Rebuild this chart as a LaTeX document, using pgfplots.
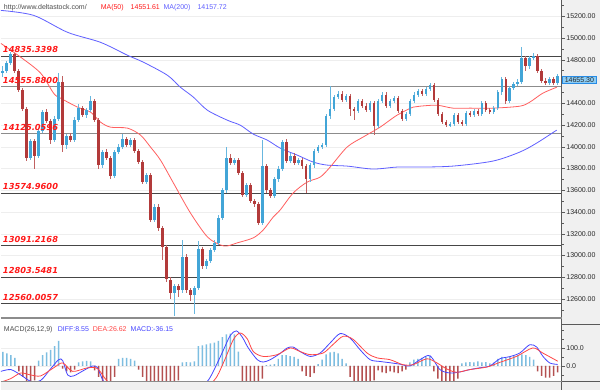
\documentclass[border=0pt]{standalone}
\usepackage{pgfplots}
\pgfplotsset{compat=1.18}
\usepackage{pgfplotstable}
\usepackage{fontspec}
\setmainfont{Liberation Sans}
\newfontfamily\dejavu{DejaVu Sans}
\definecolor{upc}{RGB}{66,165,215}
\definecolor{dnc}{RGB}{178,58,58}
\definecolor{maA}{RGB}{255,95,95}
\definecolor{maB}{RGB}{95,95,255}
\definecolor{srdark}{RGB}{70,70,70}
\definecolor{srgray}{RGB}{140,140,140}
\definecolor{lblred}{RGB}{255,25,25}
\definecolor{hpos}{RGB}{125,190,225}
\definecolor{hneg}{RGB}{180,80,80}
\definecolor{panelgray}{RGB}{240,240,240}
\definecolor{gridc}{RGB}{238,238,238}
\definecolor{tickc}{RGB}{90,90,90}
\definecolor{labc}{RGB}{40,40,40}
\definecolor{diffc}{RGB}{70,70,255}
\definecolor{deac}{RGB}{255,70,70}
\definecolor{boxfill}{RGB}{140,205,245}
\definecolor{boxdraw}{RGB}{40,140,230}

\pgfplotstableread{
x o h l c
2 14680 14740 14640 14700
6 14700 14790 14680 14770
10 14770 14870 14750 14850
14 14850 14860 14680 14700
18 14700 14720 14500 14520
22 14520 14540 14330 14350
26 14350 14370 13870 13900
30 13900 14070 13880 14050
34 14050 14070 13800 13920
38 13920 14170 13900 14150
42 14150 14340 14130 14320
46 14320 14350 14220 14240
50 14240 14260 14030 14060
54 14060 14280 14040 14260
58 14260 14680 14240 14600
62 14600 14650 13950 14020
66 14020 14120 13980 14100
70 14100 14130 14040 14060
74 14060 14270 14040 14250
78 14250 14390 14230 14360
82 14360 14380 14270 14290
86 14290 14360 14270 14340
90 14340 14470 14320 14420
94 14420 14440 14230 14250
98 14250 14270 13800 13830
102 13830 13970 13810 13950
106 13950 13980 13880 13900
110 13900 13920 13700 13730
114 13730 13970 13710 13950
118 13950 14030 13930 14000
122 14000 14120 13980 14070
126 14070 14090 14000 14020
130 14020 14080 14000 14060
134 14060 14080 13940 13960
138 13960 13980 13840 13860
142 13860 13880 13660 13680
146 13680 13760 13660 13740
150 13740 13760 13310 13330
154 13330 13470 13310 13450
158 13450 13470 13230 13250
162 13250 13270 12960 13080
166 13080 13100 12760 12780
170 12780 12800 12600 12660
174 12660 12740 12440 12720
178 12720 12740 12620 12680
182 12680 13140 12660 12990
186 12990 13010 12660 12680
190 12680 12700 12580 12640
194 12640 12720 12460 12700
198 12700 13130 12680 13060
202 13060 13080 12880 12900
206 12900 12970 12880 12950
210 12950 13070 12930 13050
214 13050 13140 13030 13120
218 13120 13370 13100 13350
222 13350 13620 13330 13600
226 13600 14000 13580 13900
230 13900 13930 13830 13850
234 13850 13900 13830 13880
238 13880 13900 13740 13760
242 13760 13780 13540 13560
246 13560 13670 13540 13650
250 13650 13670 13480 13500
254 13500 13520 13450 13470
258 13470 13490 13280 13300
262 13300 14060 13280 13820
266 13820 13840 13580 13600
270 13600 13620 13530 13550
274 13550 13720 13530 13700
278 13700 13820 13680 13800
282 13800 14060 13780 14040
286 14040 14070 13850 13870
290 13870 13940 13850 13920
294 13920 13940 13830 13850
298 13850 13900 13830 13880
302 13880 13900 13800 13820
306 13820 13840 13580 13700
310 13700 13850 13680 13830
314 13830 13980 13810 13960
318 13960 14020 13940 14000
322 14000 14040 13980 14020
326 14020 14300 14000 14280
330 14280 14560 14260 14350
334 14350 14480 14330 14460
338 14460 14510 14440 14490
342 14490 14510 14410 14430
346 14430 14490 14410 14470
350 14470 14490 14280 14350
354 14350 14370 14250 14330
358 14330 14440 14310 14420
362 14420 14440 14360 14380
366 14380 14400 14320 14340
370 14340 14420 14320 14400
374 14400 14420 14110 14190
378 14190 14440 14170 14420
382 14420 14500 14400 14480
386 14480 14500 14360 14380
390 14380 14440 14360 14420
394 14420 14470 14400 14450
398 14450 14470 14310 14330
402 14330 14350 14240 14260
406 14260 14320 14240 14300
410 14300 14440 14280 14420
414 14420 14500 14400 14480
418 14480 14530 14460 14510
422 14510 14530 14470 14490
426 14490 14550 14470 14530
430 14530 14590 14510 14570
434 14570 14590 14410 14430
438 14430 14450 14280 14300
442 14300 14320 14210 14230
446 14230 14250 14180 14200
450 14200 14230 14180 14210
454 14210 14310 14190 14290
458 14290 14310 14210 14230
462 14230 14250 14190 14210
466 14210 14330 14190 14310
470 14310 14330 14270 14290
474 14290 14350 14270 14330
478 14330 14350 14280 14300
482 14300 14420 14280 14400
486 14400 14420 14320 14340
490 14340 14360 14300 14320
494 14320 14380 14300 14360
498 14360 14520 14340 14500
502 14500 14640 14480 14620
506 14620 14640 14390 14420
510 14420 14560 14400 14540
514 14540 14600 14520 14580
518 14580 14620 14560 14600
522 14600 14920 14580 14820
526 14820 14840 14700 14740
530 14740 14840 14720 14820
534 14820 14860 14800 14840
538 14840 14850 14680 14700
542 14700 14720 14590 14610
546 14610 14630 14570 14590
550 14590 14640 14570 14620
554 14620 14640 14570 14590
558 14590 14670 14570 14655.3
}\candles

\pgfplotstableread{
x v
2 78
6 70
10 60
14 45
18 -30
22 -60
26 -90
30 -90
34 -80
38 30
42 60
46 75
50 90
54 110
58 140
62 -15
66 -30
70 -35
74 -20
78 20
82 25
86 28
90 25
94 -25
98 -60
102 -90
106 -90
110 -90
114 -60
118 40
122 45
126 45
130 40
134 30
138 -20
142 -60
146 -90
150 -90
154 -90
158 -90
162 -90
166 -90
170 -90
174 -90
178 -80
182 20
186 22
190 20
194 25
198 110
202 115
206 120
210 125
214 130
218 140
222 160
226 175
230 180
234 175
238 80
242 -90
246 -90
250 -90
254 -90
258 -90
262 -70
266 5
270 8
274 10
278 40
282 60
286 60
290 55
294 50
298 40
302 -30
306 -55
310 -60
314 -40
318 10
322 35
326 65
330 75
334 78
338 70
342 40
346 15
350 -60
354 -85
358 -90
362 -90
366 -90
370 -85
374 -80
378 -25
382 -35
386 -40
390 -30
394 -35
398 -40
402 -30
406 -20
410 20
414 35
418 40
422 45
426 50
430 55
434 -30
438 -70
442 -90
446 -90
450 -90
454 -85
458 -70
462 15
466 20
470 22
474 20
478 25
482 20
486 22
490 15
494 18
498 40
502 50
506 45
510 50
514 55
518 60
522 65
526 60
530 50
534 35
538 -30
542 -55
546 -65
550 -65
554 -55
558 -36.15
}\hist

\pgfplotsset{
  candle/.style n args={2}{draw=none, no marks, forget plot,
    restrict y to domain=10000:20000,
    error bars/.cd, y dir=both, y explicit, error mark=none,
    error bar style={draw=#1, line width=#2, line cap=butt}},
}

\begin{document}
\begin{tikzpicture}
\fill[white] (0pt,0pt) rectangle (600pt,390pt);
\fill[panelgray] (562pt,0pt) rectangle (600pt,390pt);
\fill[panelgray] (0pt,0pt) rectangle (600pt,8pt);

\begin{axis}[
  at={(0pt,72pt)}, anchor=south west, scale only axis,
  width=562pt, height=318pt,
  xmin=0, xmax=562, ymin=12428, ymax=15347,
  xtick=\empty,
  axis line style={draw=none},
  ytick={12600,12800,13000,13200,13400,13600,13800,14000,14200,14400,14800,15000,15200},
  minor ytick={12500,12700,...,15300,14600},
  scaled y ticks=false,
  ytick pos=right, yticklabel pos=right,
  ymajorgrids, major grid style={draw=gridc, line width=0.6pt},
  tick align=outside, major tick length=3.5pt, minor tick length=2pt,
  tick style={draw=tickc, line width=0.5pt},
  minor tick style={draw=tickc, line width=0.5pt},
  yticklabel style={font=\fontsize{7}{8}\selectfont, text=labc, anchor=west, inner sep=1pt,
    /pgf/number format/fixed, /pgf/number format/fixed zerofill,
    /pgf/number format/precision=2, /pgf/number format/1000 sep={},
    /pgf/number format/assume math mode=true},
  clip mode=individual,
]
% support / resistance lines
\addplot[srdark, line width=0.8pt] coordinates {(0,14835.3398) (562,14835.3398)};
\addplot[srgray, line width=1.4pt] coordinates {(0,14555.88) (562,14555.88)};
\addplot[srgray, line width=1.4pt] coordinates {(0,14125.0596) (562,14125.0596)};
\addplot[srdark, line width=0.8pt] coordinates {(0,13574.96) (562,13574.96)};
\addplot[srdark, line width=0.8pt] coordinates {(0,13091.2168) (562,13091.2168)};
\addplot[srdark, line width=0.8pt] coordinates {(0,12803.5481) (562,12803.5481)};
\addplot[srdark, line width=0.8pt] coordinates {(0,12560.0057) (562,12560.0057)};

% MA lines
\addplot[maB, line width=0.8pt, smooth] coordinates {
(0,15255) (33,15209) (67,15053) (100,14961) (127,14842) (143,14778) (167,14658)
(180,14548) (193,14457) (207,14337) (227,14245) (240,14199) (253,14117) (267,14062)
(280,13988) (297,13924) (313,13860) (327,13832) (347,13823) (373,13796) (397,13814)
(420,13814) (453,13823) (493,13869) (520,13952) (537,14035) (557,14154)};
\addplot[maA, line width=0.8pt, smooth] coordinates {
(0,14952) (20,14824) (40,14677) (53,14492) (60,14447) (77,14365) (90,14319)
(100,14227) (110,14181) (127,14172) (140,14108) (150,13998) (160,13878) (173,13667)
(190,13392) (207,13172) (220,13098) (227,13089) (237,13117) (253,13163) (263,13236)
(273,13355) (280,13420) (293,13576) (307,13676) (320,13722) (330,13814) (347,13998)
(363,14090) (380,14181) (397,14291) (413,14365) (420,14374) (437,14383) (453,14356)
(470,14356) (493,14356) (520,14374) (530,14411) (543,14493) (557,14548)};

% candles: wicks
\addplot[candle={upc!80}{0.7pt}]
  table[x=x, y expr={ifthenelse(\thisrow{c}>=\thisrow{o},(\thisrow{h}+\thisrow{l})/2,50000)},
        y error expr={(\thisrow{h}-\thisrow{l})/2}] {\candles};
\addplot[candle={dnc!80}{0.7pt}]
  table[x=x, y expr={ifthenelse(\thisrow{c}<\thisrow{o},(\thisrow{h}+\thisrow{l})/2,50000)},
        y error expr={(\thisrow{h}-\thisrow{l})/2}] {\candles};
% candles: bodies
\addplot[candle={upc}{2.6pt}]
  table[x=x, y expr={ifthenelse(\thisrow{c}>=\thisrow{o},(\thisrow{o}+\thisrow{c})/2,50000)},
        y error expr={max(abs(\thisrow{c}-\thisrow{o})/2,5)}] {\candles};
\addplot[candle={dnc}{2.6pt}]
  table[x=x, y expr={ifthenelse(\thisrow{c}<\thisrow{o},(\thisrow{o}+\thisrow{c})/2,50000)},
        y error expr={max(abs(\thisrow{c}-\thisrow{o})/2,5)}] {\candles};

% level labels
\begin{scope}[every node/.style={anchor=base west, inner sep=0pt, text=lblred,
   font=\dejavu\bfseries\itshape\fontsize{8.3}{9}\selectfont}]
\node at (axis cs:2,14864) {14835.3398};
\node at (axis cs:2,14584) {14555.8800};
\node at (axis cs:2,14154) {14125.0596};
\node at (axis cs:2,13604) {13574.9600};
\node at (axis cs:2,13120) {13091.2168};
\node at (axis cs:2,12832) {12803.5481};
\node at (axis cs:2,12589) {12560.0057};
\end{scope}
\end{axis}

\begin{axis}[
  at={(0pt,8pt)}, anchor=south west, scale only axis,
  width=562pt, height=57pt,
  xmin=0, xmax=562, ymin=-87, ymax=229,
  xtick=\empty,
  axis line style={draw=none},
  ytick={0,100}, minor ytick={-50,50,150,200},
  ytick pos=right, yticklabel pos=right,
  ymajorgrids, major grid style={draw=gridc, line width=0.6pt},
  tick align=outside, major tick length=3.5pt, minor tick length=2pt,
  tick style={draw=tickc, line width=0.5pt},
  minor tick style={draw=tickc, line width=0.5pt},
  yticklabel style={font=\fontsize{7}{8}\selectfont, text=labc, anchor=west, inner sep=1pt,
    /pgf/number format/fixed, /pgf/number format/fixed zerofill,
    /pgf/number format/precision=1, /pgf/number format/assume math mode=true},
  clip mode=individual,
]
\addplot[ybar, bar width=1.5pt, bar shift=0pt, fill=hpos, draw=none]
  table[x=x, y expr={max(\thisrow{v},0)}] {\hist};
\addplot[ybar, bar width=1.5pt, bar shift=0pt, fill=hneg, draw=none]
  table[x=x, y expr={min(\thisrow{v},0)}] {\hist};
\addplot[diffc, line width=0.8pt, smooth] coordinates {
(0,-30) (10,-20) (20,-50) (30,-85) (40,-80) (50,-15) (58,35) (62,30) (67,-50) (73,-55)
(83,-25) (92,0) (97,-10) (103,-85) (113,-110) (130,-130) (160,-180) (190,-150) (207,-85)
(217,17) (223,88) (230,170) (236,195) (242,160) (248,100) (257,35) (263,22) (270,35)
(280,70) (287,100) (293,105) (300,80) (310,53) (320,72) (330,128) (340,180) (350,155)
(360,90) (370,35) (380,25) (390,18) (400,10) (410,0) (420,35) (430,57) (440,-20)
(450,-39) (460,-33) (470,-20) (480,-10) (490,0) (500,40) (510,52) (520,72) (530,118)
(537,105) (543,55) (550,17) (558,8.55)};
\addplot[deac, line width=0.8pt, smooth] coordinates {
(0,-90) (10,-70) (20,-39) (30,-50) (40,-55) (53,-10) (62,17) (72,-30) (87,-10) (97,-15)
(107,-85) (120,-110) (150,-160) (190,-160) (213,-85) (223,17) (233,146) (240,183)
(247,150) (253,80) (263,53) (277,63) (290,100) (300,80) (310,63) (323,72) (333,120)
(343,165) (353,148) (367,72) (377,45) (390,35) (403,7) (413,7) (427,40) (437,17)
(447,-17) (457,-35) (470,-20) (487,-6) (500,20) (517,54) (533,100) (543,72) (558,26.62)};
\end{axis}

% frame lines
\draw[tickc, line width=0.8pt] (562pt,0pt) -- (562pt,390pt);
\draw[srgray, line width=1.6pt] (0pt,72pt) -- (562pt,72pt);
\draw[tickc, line width=0.8pt] (562pt,65pt) -- (600pt,65pt);
\draw[srgray, line width=1.4pt] (0pt,8pt) -- (562pt,8pt);
\draw[tickc, line width=0.8pt] (562pt,8pt) -- (600pt,8pt);

% current price box
\node[anchor=west, fill=boxfill, draw=boxdraw, line width=0.5pt, inner xsep=1.5pt, inner ysep=1.5pt,
  text=labc, font=\fontsize{7}{8}\selectfont, minimum width=34pt] at (562.5pt,310.5pt) {14655.30};

% header texts
\begin{scope}[every node/.style={anchor=base west, inner sep=0pt, font=\fontsize{7}{8}\selectfont}]
\node[text=black!70] at (3pt,380.5pt) {http://www.deltastock.com/};
\node[text=lblred] at (100pt,380.5pt) {MA(50)};
\node[text=lblred] at (130pt,380.5pt) {14551.61};
\node[text=maB] at (163pt,380.5pt) {MA(200)};
\node[text=maB] at (197pt,380.5pt) {14157.72};
\node[text=black!70] at (3pt,58pt) {MACD(26,12,9)};
\node[text=diffc] at (57pt,58pt) {DIFF:8.55};
\node[text=deac] at (92pt,58pt) {DEA:26.62};
\node[text=diffc] at (130pt,58pt) {MACD:-36.15};
\end{scope}
\end{tikzpicture}
\end{document}
